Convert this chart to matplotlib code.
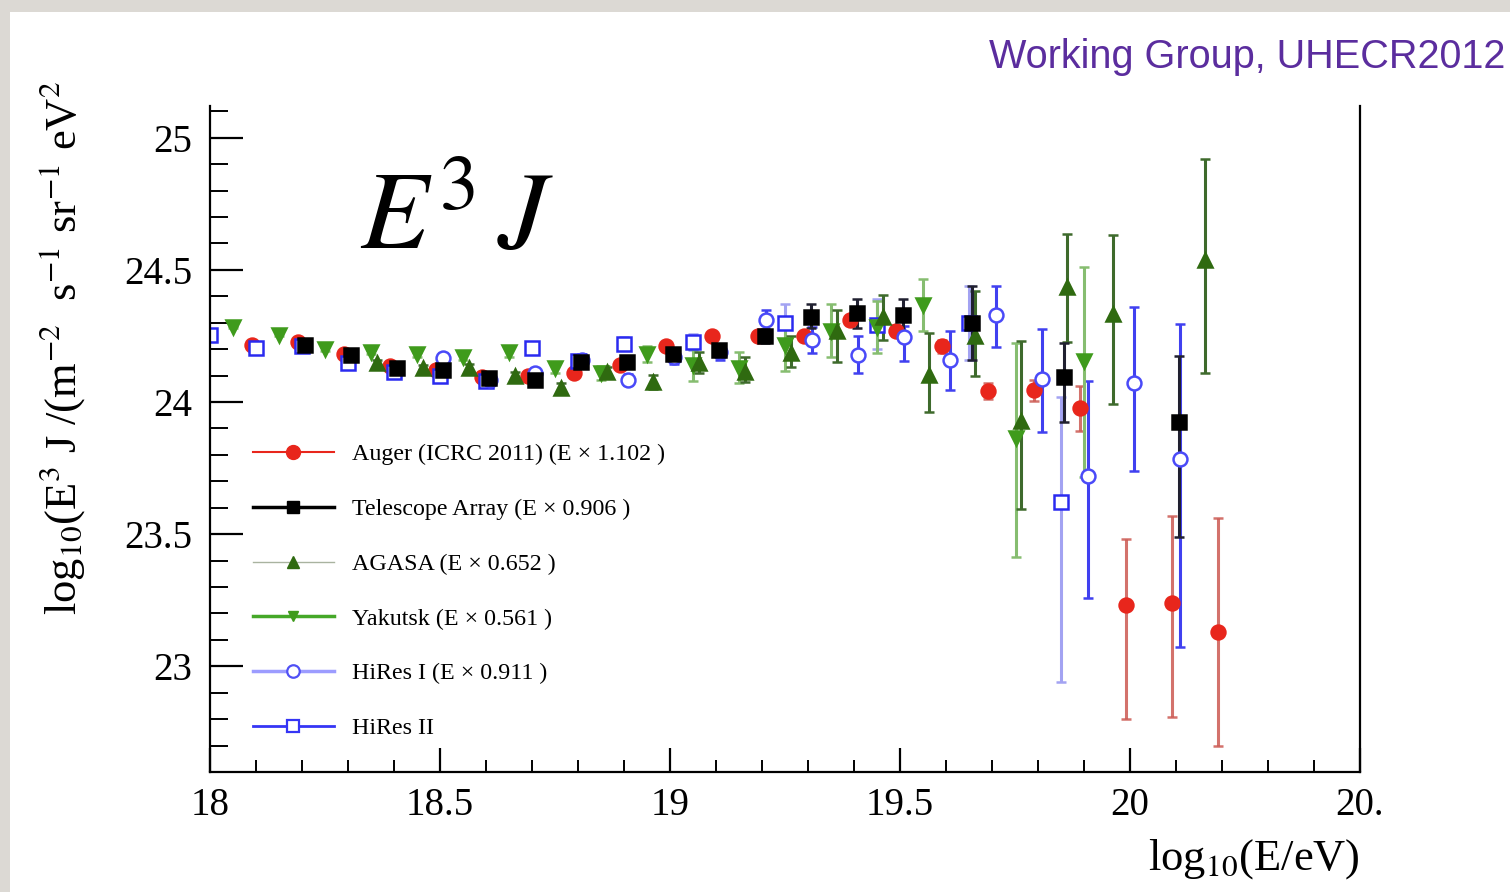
import numpy as np
import matplotlib
matplotlib.use('Agg')
import matplotlib.pyplot as plt
from matplotlib.lines import Line2D
from matplotlib.patches import Rectangle
from matplotlib.ticker import MultipleLocator

# ---- data: log10(E/eV), log10(E^3 J), asymmetric errors ----
auger_x = [18.092, 18.192, 18.292, 18.392, 18.492, 18.592, 18.692, 18.792, 18.892, 18.992, 19.092,
           19.192, 19.292, 19.392, 19.492, 19.592, 19.692, 19.792, 19.892, 19.992, 20.092, 20.192]
auger_y = [24.216, 24.227, 24.18, 24.136, 24.12, 24.095, 24.10, 24.11, 24.14, 24.21, 24.25,
           24.25, 24.25, 24.31, 24.27, 24.21, 24.04, 24.045, 23.977, 23.23, 23.24, 23.13]
auger_lo = [0.005, 0.005, 0.005, 0.005, 0.006, 0.006, 0.007, 0.008, 0.009, 0.01, 0.012,
            0.014, 0.016, 0.02, 0.02, 0.025, 0.03, 0.04, 0.085, 0.43, 0.43, 0.43]
auger_hi = [0.005, 0.005, 0.005, 0.005, 0.006, 0.006, 0.007, 0.008, 0.009, 0.01, 0.012,
            0.014, 0.016, 0.02, 0.02, 0.025, 0.03, 0.04, 0.085, 0.25, 0.33, 0.43]

ta_x = [18.207, 18.307, 18.407, 18.507, 18.607, 18.707, 18.807, 18.907, 19.007, 19.107, 19.207,
        19.307, 19.407, 19.507, 19.657, 19.857, 20.107]
ta_y = [24.216, 24.178, 24.13, 24.12, 24.09, 24.083, 24.15, 24.15, 24.18, 24.197, 24.25,
        24.32, 24.335, 24.33, 24.30, 24.095, 23.925]
ta_lo = [0.01, 0.01, 0.01, 0.012, 0.012, 0.014, 0.015, 0.018, 0.02, 0.022, 0.025,
         0.04, 0.055, 0.07, 0.14, 0.17, 0.435]
ta_hi = [0.01, 0.01, 0.01, 0.012, 0.012, 0.014, 0.015, 0.018, 0.02, 0.022, 0.025,
         0.05, 0.055, 0.06, 0.14, 0.13, 0.25]

agasa_x = [18.364, 18.464, 18.564, 18.664, 18.764, 18.864, 18.964, 19.064, 19.164, 19.264,
           19.364, 19.464, 19.564, 19.664, 19.764, 19.864, 19.964, 20.164]
agasa_y = [24.148, 24.13, 24.13, 24.10, 24.053, 24.114, 24.076, 24.148, 24.114, 24.186,
           24.27, 24.32, 24.102, 24.25, 23.93, 24.436, 24.333, 24.538]
agasa_lo = [0.01, 0.01, 0.015, 0.015, 0.02, 0.02, 0.025, 0.04, 0.04, 0.055,
            0.12, 0.085, 0.14, 0.15, 0.335, 0.21, 0.34, 0.43]
agasa_hi = [0.01, 0.01, 0.015, 0.015, 0.02, 0.02, 0.025, 0.04, 0.055, 0.065,
            0.08, 0.085, 0.16, 0.17, 0.30, 0.20, 0.30, 0.38]

yak_x = [18.049, 18.149, 18.249, 18.349, 18.449, 18.549, 18.649, 18.749, 18.849, 18.949,
         19.049, 19.149, 19.249, 19.349, 19.449, 19.549, 19.752, 19.90]
yak_y = [24.284, 24.254, 24.20, 24.19, 24.18, 24.17, 24.19, 24.13, 24.11, 24.18,
         24.14, 24.13, 24.216, 24.27, 24.284, 24.367, 23.864, 24.155]
yak_lo = [0.005, 0.006, 0.007, 0.008, 0.01, 0.012, 0.02, 0.02, 0.025, 0.03,
          0.06, 0.06, 0.1, 0.1, 0.1, 0.1, 0.45, 0.44]
yak_hi = [0.005, 0.006, 0.007, 0.008, 0.01, 0.012, 0.02, 0.02, 0.025, 0.03,
          0.06, 0.06, 0.065, 0.1, 0.1, 0.1, 0.36, 0.355]

hr1_x = [18.507, 18.609, 18.707, 18.809, 18.909, 19.009, 19.109, 19.209, 19.309, 19.409,
         19.509, 19.609, 19.709, 19.809, 19.909, 20.009, 20.109]
hr1_y = [24.167, 24.085, 24.11, 24.16, 24.085, 24.17, 24.19, 24.31, 24.235, 24.178,
         24.246, 24.16, 24.33, 24.087, 23.72, 24.07, 23.784]
hr1_lo = [0.02, 0.02, 0.02, 0.02, 0.02, 0.025, 0.03, 0.04, 0.05, 0.07,
          0.09, 0.115, 0.12, 0.2, 0.46, 0.33, 0.71]
hr1_hi = [0.02, 0.02, 0.02, 0.02, 0.02, 0.025, 0.03, 0.04, 0.05, 0.07,
          0.04, 0.11, 0.11, 0.19, 0.36, 0.29, 0.51]

hr2_x = [18.0, 18.1, 18.2, 18.3, 18.4, 18.5, 18.6, 18.7, 18.8, 18.9,
         19.05, 19.25, 19.45, 19.65, 19.85]
hr2_y = [24.254, 24.205, 24.21, 24.148, 24.114, 24.10, 24.08, 24.205, 24.155, 24.22,
         24.228, 24.30, 24.29, 24.30, 23.62]
hr2_lo = [0.01, 0.01, 0.01, 0.01, 0.012, 0.015, 0.018, 0.02, 0.022, 0.025,
          0.03, 0.06, 0.09, 0.14, 0.68]
hr2_hi = [0.01, 0.01, 0.01, 0.01, 0.012, 0.015, 0.018, 0.02, 0.022, 0.025,
          0.03, 0.07, 0.10, 0.14, 0.40]

labels = ['Auger (ICRC 2011) (E × 1.102 )', 'Telescope Array (E × 0.906 )',
          'AGASA (E × 0.652 )', 'Yakutsk (E × 0.561 )', 'HiRes I (E × 0.911 )', 'HiRes II']
x_ticks = [18, 18.5, 19, 19.5, 20, 20.5]
x_ticklabels = ['18', '18.5', '19', '19.5', '20', '20.']
y_ticks = [23, 23.5, 24, 24.5, 25]
y_ticklabels = ['23', '23.5', '24', '24.5', '25']

plt.rcParams['font.family'] = ['Liberation Serif', 'DejaVu Serif']
plt.rcParams['mathtext.fontset'] = 'stix'

fig = plt.figure(figsize=(15.1, 8.92), dpi=100, facecolor='#dcd9d4')
# white slide panel on the grey border (behind the axes)
fig.patches.append(Rectangle((10 / 1510, 0), 1, 1 - 12 / 892, transform=fig.transFigure,
                             facecolor='white', edgecolor='none', zorder=-5))

ax = fig.add_axes([210 / 1510, 1 - 772 / 892, 1150 / 1510, 666 / 892])
ax.set_facecolor('none')
ax.set_xlim(18, 20.5)
ax.set_ylim(22.6, 25.12)

# series: x, y, lo, hi, marker, face, edge, errcolor, size
series = [
    (auger_x, auger_y, auger_lo, auger_hi, 'o', '#e8261c', '#e8261c', (0.80, 0.35, 0.32, 0.85), 10),
    (hr2_x, hr2_y, hr2_lo, hr2_hi, 's', 'white', '#2a2af0', '#a3a3f2', 10),
    (hr1_x, hr1_y, hr1_lo, hr1_hi, 'o', 'white', '#4a4af8', '#4040f0', 10),
    (yak_x, yak_y, yak_lo, yak_hi, 'v', '#3f9b1c', '#3f9b1c', '#86bd70', 10),
    (agasa_x, agasa_y, agasa_lo, agasa_hi, '^', '#2f6a10', '#2f6a10', '#3e6a2c', 10),
    (ta_x, ta_y, ta_lo, ta_hi, 's', 'black', 'black', '#202030', 9.5),
]
for x, y, lo, hi, m, fc, ec, errc, ms in series:
    ax.errorbar(x, y, yerr=[lo, hi], fmt=m, ms=ms, mfc=fc, mec=ec, mew=1.8,
                ecolor=errc, elinewidth=2.2, capsize=3.5, capthick=2, ls='none')

# axes frame and ticks
ax.spines['top'].set_visible(False)
for s in ['left', 'bottom', 'right']:
    ax.spines[s].set_linewidth(1.6)
ax.set_xticks(x_ticks)
ax.set_xticklabels(x_ticklabels)
ax.set_yticks(y_ticks)
ax.set_yticklabels(y_ticklabels)
ax.xaxis.set_minor_locator(MultipleLocator(0.1))
ax.yaxis.set_minor_locator(MultipleLocator(0.1))
ax.tick_params(axis='y', which='major', direction='in', length=24, width=1.6, labelsize=28, pad=13)
ax.tick_params(axis='y', which='minor', direction='in', length=13, width=1.4)
ax.tick_params(axis='x', which='major', direction='in', length=17, width=1.6, labelsize=28, pad=11)
ax.tick_params(axis='x', which='minor', direction='in', length=9, width=1.4)
ax.tick_params(right=False, top=False, which='both')

# legend (proxy entries)
handles = [
    Line2D([], [], color='#e8261c', lw=1.5, marker='o', ms=10),
    Line2D([], [], color='black', lw=2.5, marker='s', ms=8.5),
    Line2D([], [], color='#a9b3a0', lw=1.0, marker='^', ms=9, mfc='#2f6a10', mec='#2f6a10'),
    Line2D([], [], color='#45a828', lw=2.5, marker='v', ms=7, mfc='#3f9b1c', mec='#3f9b1c'),
    Line2D([], [], color='#9c9cff', lw=2.5, marker='o', ms=9, mfc='white', mec='#5050f5', mew=1.6),
    Line2D([], [], color='#3535f5', lw=2.0, marker='s', ms=9, mfc='white', mec='#3535f5', mew=1.6),
]
ax.legend(handles, labels, loc='upper left', bbox_to_anchor=(0.037, 0.493), frameon=False,
          fontsize=17.3, handlelength=3.4, handletextpad=0.75, labelspacing=1.37,
          borderpad=0, borderaxespad=0)

# texts
fig.text(360 / 1510, 1 - 222 / 892, r'$E^{3}\,J$', fontsize=80, ha='left', va='center')
fig.text(1505 / 1510, 1 - 57 / 892, 'Working Group, UHECR2012', color='#5b2d9e',
         fontsize=28.5, family=['Liberation Sans', 'DejaVu Sans'], ha='right', va='center')
fig.text(62 / 1510, 1 - 615 / 892,
         r'log$_{10}$(E$^{3}$ J /(m$^{-2}$  s$^{-1}$ sr$^{-1}$ eV$^{2}$',
         fontsize=32, rotation=90, ha='center', va='bottom')
fig.text(1360 / 1510, 1 - 870 / 892, r'log$_{10}$(E/eV)', fontsize=32, ha='right', va='baseline')

fig.savefig('out.png', dpi=100, facecolor=fig.get_facecolor())
